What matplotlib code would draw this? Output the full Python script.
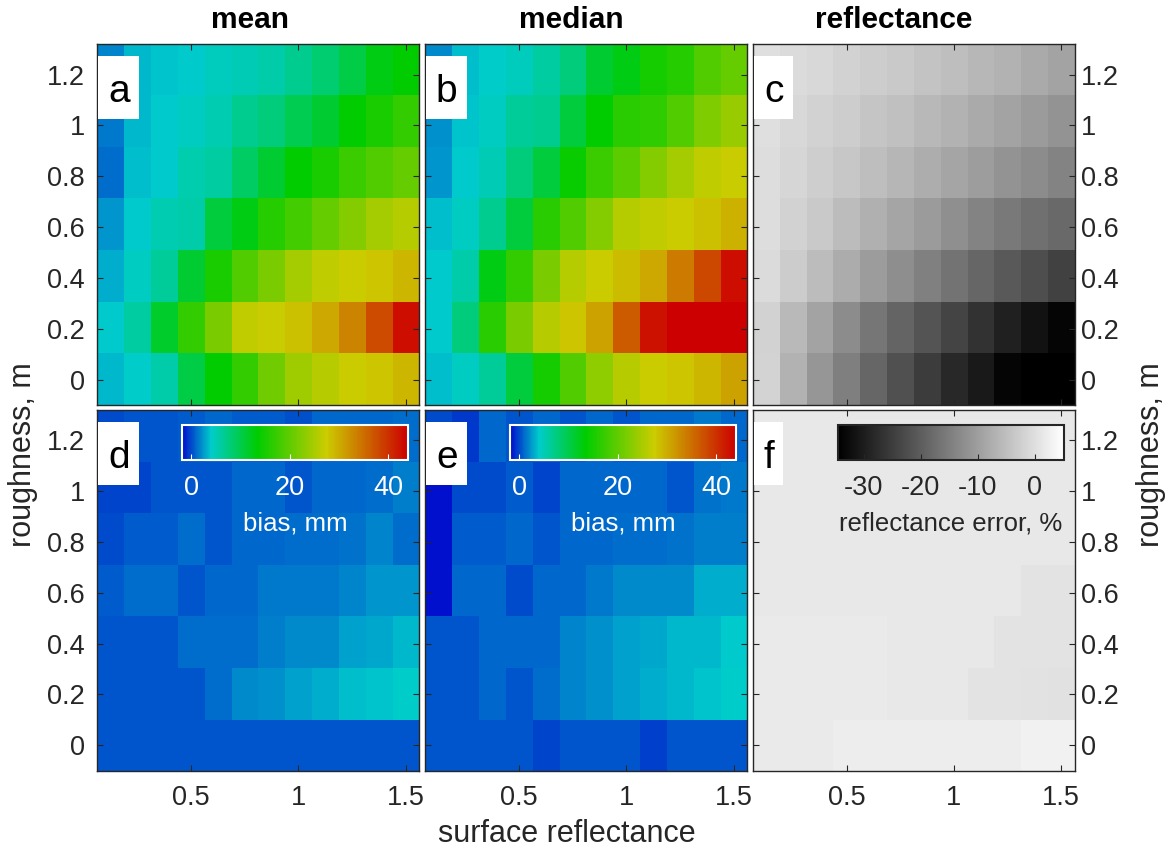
import numpy as np
import matplotlib
matplotlib.use('Agg')
import matplotlib.pyplot as plt
from matplotlib.colors import LinearSegmentedColormap, Normalize
from matplotlib.patches import Rectangle
from matplotlib.cm import ScalarMappable

plt.rcParams['font.family'] = ['Liberation Sans', 'DejaVu Sans']

# ---------------- data ----------------
surface_reflectance = [0.125, 0.25, 0.375, 0.5, 0.625, 0.75, 0.875, 1.0, 1.125, 1.25, 1.375, 1.5]
roughness = [0.0, 0.2, 0.4, 0.6, 0.8, 1.0, 1.2]

x_ticks = [0.5, 1.0, 1.5]
x_ticklabels = ['0.5', '1', '1.5']
y_ticks = [0.0, 0.2, 0.4, 0.6, 0.8, 1.0, 1.2]
y_ticklabels = ['0', '0.2', '0.4', '0.6', '0.8', '1', '1.2']

column_titles = ['mean', 'median', 'reflectance']
panel_letters = ['a', 'b', 'c', 'd', 'e', 'f']

# rows: roughness 0 -> 1.2 ; columns: surface reflectance
mean_bias = [
    [3.4, 4.2, 5.7, 10.2, 13.5, 17.0, 21.2, 24.4, 26.1, 27.5, 27.9, 29.2],
    [4.0, 5.9, 11.6, 17.0, 21.9, 26.8, 27.2, 28.3, 30.4, 33.3, 37.8, 42.8],
    [3.2, 4.5, 6.4, 11.1, 15.3, 19.1, 21.9, 24.7, 26.5, 27.5, 27.9, 29.2],
    [2.4, 4.0, 5.2, 5.7, 10.7, 12.6, 16.0, 18.1, 20.5, 22.6, 24.7, 25.8],
    [1.2, 3.7, 4.0, 5.4, 5.9, 8.8, 11.1, 13.5, 15.3, 17.7, 19.1, 20.5],
    [1.5, 3.4, 4.0, 4.5, 5.2, 6.9, 7.8, 9.7, 11.1, 13.5, 15.3, 17.0],
    [1.8, 3.4, 3.8, 4.0, 4.7, 5.0, 5.7, 6.9, 8.3, 10.2, 12.6, 13.5],
]
median_bias = [
    [3.7, 4.5, 6.4, 10.7, 14.9, 19.1, 23.3, 26.1, 27.5, 27.9, 29.2, 30.8],
    [4.0, 7.8, 16.3, 21.9, 26.1, 27.9, 30.8, 36.6, 42.4, 44.5, 45.0, 45.0],
    [4.0, 5.7, 12.6, 17.0, 21.9, 25.8, 27.5, 28.7, 30.4, 34.1, 38.2, 42.8],
    [3.7, 4.5, 6.9, 10.7, 16.3, 19.1, 22.6, 25.8, 26.8, 27.5, 28.3, 29.6],
    [2.4, 4.0, 5.0, 7.8, 10.7, 14.2, 17.7, 19.8, 22.6, 24.7, 26.5, 27.2],
    [2.3, 3.8, 4.5, 6.4, 6.9, 10.7, 13.5, 16.3, 16.7, 19.1, 22.3, 24.0],
    [2.1, 3.7, 4.2, 4.7, 5.9, 7.8, 11.1, 12.6, 14.9, 16.0, 19.1, 20.5],
]
reflectance_error = [
    [-1.6, -6.9, -11.2, -14.8, -18.7, -22.1, -25.2, -28.3, -30.6, -33.7, -34.5, -34.5],
    [-1.9, -5.8, -9.2, -12.8, -16.2, -19.0, -21.5, -23.9, -26.7, -29.4, -31.7, -33.6],
    [-0.6, -2.8, -5.3, -7.8, -10.3, -12.4, -14.6, -16.6, -18.7, -20.5, -22.4, -24.4],
    [-0.3, -1.9, -3.4, -5.3, -7.2, -8.9, -10.4, -12.3, -14.0, -15.6, -17.1, -18.2],
    [-0.3, -1.3, -2.5, -3.7, -5.0, -6.2, -7.6, -8.9, -10.1, -11.5, -12.8, -14.0],
    [0.0, -1.0, -1.9, -2.7, -3.9, -4.7, -5.9, -6.9, -8.1, -9.2, -10.4, -11.5],
    [0.0, -0.5, -1.0, -1.9, -2.7, -3.4, -4.2, -5.0, -6.1, -6.9, -8.1, -9.2],
]
mean_bias_corrected = [
    [0.5, 0.5, 0.5, 0.5, 0.5, 0.5, 0.5, 0.5, 0.5, 0.5, 0.5, 0.5],
    [0.5, 0.5, 0.5, 0.5, 1.2, 2.1, 2.3, 2.7, 3.2, 3.7, 3.8, 4.2],
    [0.5, 0.5, 0.5, 1.2, 1.2, 1.2, 1.6, 2.1, 2.1, 2.7, 2.9, 3.5],
    [0.7, 1.2, 1.2, 0.4, 1.0, 1.0, 1.5, 1.5, 1.5, 1.9, 2.4, 2.4],
    [0.1, 0.7, 0.7, 1.2, 0.4, 0.9, 1.0, 1.2, 1.2, 1.3, 1.8, 1.2],
    [-0.1, -0.1, 0.5, 0.5, 0.5, 1.0, 1.0, 0.5, 0.9, 1.0, 1.2, 1.6],
    [0.1, 0.4, 0.4, 0.7, 0.9, 0.7, 0.7, 0.2, 1.0, 1.0, 1.0, 1.2],
]
median_bias_corrected = [
    [0.5, 0.5, 0.5, 0.5, -0.1, 0.5, 0.5, 0.5, -0.3, 0.5, 0.5, 0.5],
    [0.5, 0.5, 0.9, 0.4, 1.2, 1.8, 2.3, 2.7, 3.2, 3.5, 3.8, 4.2],
    [0.5, 0.5, 0.9, 0.9, 0.9, 1.9, 2.3, 2.7, 3.0, 3.4, 3.5, 4.1],
    [-1.7, 0.9, 1.0, 0.1, 1.0, 1.0, 1.5, 2.0, 2.0, 2.0, 3.1, 3.1],
    [-1.7, 0.7, 0.7, 1.0, 0.5, 0.9, 0.9, 1.2, 1.2, 1.3, 1.6, 1.6],
    [-1.7, 0.1, 0.1, 0.7, -0.1, 0.9, 0.9, 0.9, 0.9, 0.4, 1.3, 1.5],
    [0.1, -0.4, 0.9, 0.4, 0.9, 0.5, 0.9, 0.4, 0.9, 0.9, 1.5, 0.9],
]
reflectance_error_corrected = [
    [1.8, 1.8, 1.8, 2.3, 2.3, 2.3, 2.3, 2.3, 2.3, 2.3, 2.8, 2.8],
    [1.8, 1.8, 1.8, 1.8, 1.8, 1.5, 1.5, 1.5, 0.9, 0.9, 0.6, 0.4],
    [1.8, 1.8, 1.8, 1.8, 1.8, 1.5, 1.5, 1.5, 1.5, 0.9, 0.9, 0.7],
    [1.5, 1.5, 1.5, 1.5, 1.5, 1.5, 1.5, 1.5, 1.5, 1.5, 0.9, 0.9],
    [1.5, 1.5, 1.5, 1.5, 1.5, 1.5, 1.5, 1.5, 1.5, 1.5, 1.5, 1.5],
    [1.5, 1.5, 1.5, 1.5, 1.5, 1.5, 1.5, 1.5, 1.5, 1.5, 1.5, 1.5],
    [1.5, 1.5, 1.5, 1.5, 1.5, 1.5, 1.5, 1.5, 1.5, 1.5, 1.5, 1.5],
]

bias_cbar_ticks = [0, 20, 40]
refl_cbar_ticks = [-30, -20, -10, 0]

# ---------------- styling ----------------
BIAS_MIN, BIAS_MAX = -1.8, 44.0
REFL_MIN, REFL_MAX = -34.5, 5.1
span = BIAS_MAX - BIAS_MIN
bias_cmap = LinearSegmentedColormap.from_list('bias', [
    (0.0, (0.0, 16/255, 0.8)),
    ((4.0 - BIAS_MIN)/span, (0.0, 0.8, 0.8)),
    ((13.5 - BIAS_MIN)/span, (0.0, 0.8, 0.0)),
    ((27.5 - BIAS_MIN)/span, (0.8, 0.8, 0.0)),
    (1.0, (0.8, 0.0, 0.0)),
], N=256)
bias_norm = Normalize(BIAS_MIN, BIAS_MAX)
refl_cmap = plt.get_cmap('gray')
refl_norm = Normalize(REFL_MIN, REFL_MAX)

DARK = '#262626'
FS = 19.5
LABEL_FS = 22
CB_LABEL_FS = 18.5

W, H = 1175, 849
fig = plt.figure(figsize=(W/100, H/100), dpi=100)

def px_axes(l, t, r, b):
    return fig.add_axes([l/W, 1 - b/H, (r - l)/W, (b - t)/H])

col_px = [(96.7, 419.3), (424.7, 747.3), (752.7, 1074.7)]
row_px = [(44.0, 405.0), (410.0, 770.7)]

x_arr = np.array(surface_reflectance)
dx = x_arr[1] - x_arr[0]
extent = [x_arr[0] - dx/2, x_arr[-1] + dx/2, -0.1, 1.32]

panels = [
    (mean_bias, bias_cmap, bias_norm),
    (median_bias, bias_cmap, bias_norm),
    (reflectance_error, refl_cmap, refl_norm),
    (mean_bias_corrected, bias_cmap, bias_norm),
    (median_bias_corrected, bias_cmap, bias_norm),
    (reflectance_error_corrected, refl_cmap, refl_norm),
]
box_w = [41, 41, 39, 41, 41, 29]

for i, (data, cmap, norm) in enumerate(panels):
    r, c = divmod(i, 3)
    l, rr = col_px[c]
    t, b = row_px[r]
    ax = px_axes(l, t, rr, b)
    ax.imshow(np.array(data), cmap=cmap, norm=norm, origin='lower', extent=extent,
              aspect='auto', interpolation='nearest')
    ax.set_xlim(extent[0], extent[1])
    ax.set_ylim(extent[2], extent[3])
    ax.set_xticks(x_ticks)
    ax.set_yticks(y_ticks)
    ax.tick_params(direction='in', length=4, width=0.8, top=True, right=True,
                   bottom=True, left=True, color=DARK, labelcolor=DARK, labelsize=FS)
    ax.tick_params(axis='x', pad=10)
    if r == 1:
        ax.set_xticklabels(x_ticklabels)
    else:
        ax.set_xticklabels([])
    if c == 0:
        ax.set_yticklabels(y_ticklabels)
        ax.tick_params(axis='y', pad=8.5)
    elif c == 2:
        ax.set_yticklabels(y_ticklabels)
        ax.tick_params(axis='y', labelleft=False, labelright=True, pad=4.5)
    else:
        ax.set_yticklabels([])
    for s in ax.spines.values():
        s.set_color(DARK)
        s.set_linewidth(1.0)

    pw = rr - l
    ph = b - t
    ax.add_patch(Rectangle((1.5/pw, 1 - (12 + 63)/ph), box_w[i]/pw, 63/ph,
                           transform=ax.transAxes, facecolor='white',
                           edgecolor='none', zorder=3))
    ax.text((1.5 + box_w[i]/2)/pw, 1 - (12 + 46.5)/ph, panel_letters[i],
            transform=ax.transAxes, ha='center', va='baseline', fontsize=28,
            color='black', zorder=4)

    if r == 1:
        cax = px_axes(l + 85.5, t + 15, l + 85.5 + 225.5, t + 50)
        if c < 2:
            sm = ScalarMappable(norm=bias_norm, cmap=bias_cmap)
            cb = fig.colorbar(sm, cax=cax, orientation='horizontal')
            cb.set_ticks(bias_cbar_ticks)
            cb.set_ticklabels([str(v) for v in bias_cbar_ticks])
            fg = 'white'
            lab = 'bias, mm'
        else:
            sm = ScalarMappable(norm=refl_norm, cmap=refl_cmap)
            cb = fig.colorbar(sm, cax=cax, orientation='horizontal')
            cb.set_ticks(refl_cbar_ticks)
            cb.set_ticklabels([str(v) for v in refl_cbar_ticks])
            fg = DARK
            lab = 'reflectance error, %'
        cb.outline.set_edgecolor(fg)
        cb.outline.set_linewidth(1.5)
        cax.tick_params(axis='x', direction='in', length=4, width=0.8, color=fg,
                        labelcolor=fg, labelsize=FS, pad=11)
        cb.set_label(lab, color=fg, fontsize=CB_LABEL_FS, labelpad=7)

# titles
title_x = [250, 571, 894]
for tx, ttl in zip(title_x, column_titles):
    fig.text(tx/W, 1 - 28.3/H, ttl, ha='center', va='baseline', fontsize=21.5,
             fontweight='bold', color='black')

fig.text(23.5/W, 1 - 455/H, 'roughness, m', rotation=90, ha='center', va='center',
         fontsize=LABEL_FS, color=DARK)
fig.text(1151.5/W, 1 - 455/H, 'roughness, m', rotation=90, ha='center', va='center',
         fontsize=LABEL_FS, color=DARK)
fig.text(566.5/W, 1 - 841.7/H, 'surface reflectance', ha='center', va='baseline',
         fontsize=LABEL_FS, color=DARK)

fig.savefig('out.png', dpi=100, facecolor='white')
